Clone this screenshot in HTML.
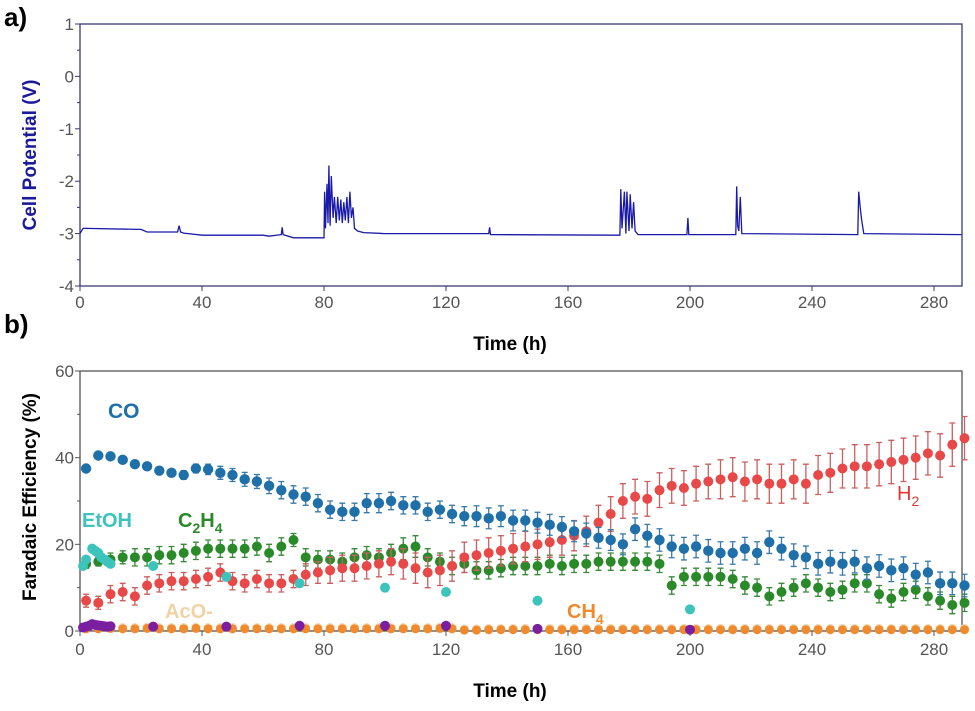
<!DOCTYPE html>
<html><head><meta charset="utf-8"><style>
body{margin:0;background:#fff;}
svg{display:block;font-family:"Liberation Sans",sans-serif;}
</style></head><body>
<svg id="chart" width="975" height="711" viewBox="0 0 975 711" xmlns="http://www.w3.org/2000/svg">
<text x="4" y="26" font-size="26" font-weight="bold">a)</text>
<text x="4" y="333" font-size="26" font-weight="bold">b)</text>
<g id="pa"></g>
<g id="pb"></g>
<text transform="translate(36,155) rotate(-90)" text-anchor="middle" font-size="19" font-weight="bold" fill="#1a1a9a">Cell Potential (V)</text>
<text x="510" y="350" text-anchor="middle" font-size="19" font-weight="bold">Time (h)</text>
<text transform="translate(36,497) rotate(-90)" text-anchor="middle" font-size="19" font-weight="bold">Faradaic Efficiency (%)</text>
<text x="510" y="697" text-anchor="middle" font-size="19" font-weight="bold">Time (h)</text>
<text x="108" y="418" font-size="21" font-weight="bold" fill="#1f6fa8">CO</text>
<text x="82" y="527" font-size="20" font-weight="bold" fill="#3cc4bc">EtOH</text>
<text x="178" y="527" font-size="20" font-weight="bold" fill="#2a8a2a">C<tspan font-size="14" dy="6">2</tspan><tspan dy="-6">H</tspan><tspan font-size="14" dy="6">4</tspan></text>
<text x="165" y="618" font-size="20" font-weight="bold" fill="#efd3a5">AcO-</text>
<text x="567" y="618" font-size="20" font-weight="bold" fill="#ef8a2e">CH<tspan font-size="14" dy="6">4</tspan></text>
<text x="897" y="500" font-size="20" fill="#e03838">H<tspan font-size="14" dy="6">2</tspan></text>
</svg>
<script>
// Panel a data: cell potential
const vTime=[0,1,2,20,22,32,32.5,33,34,40,60,62,66,66.3,66.6,70,80,80.2,80.5,81,81.3,81.6,82,82.4,83,83.4,84,84.5,85,85.5,86,86.5,87,87.5,88,88.5,89,89.5,90,91,93,100,134,134.3,134.6,177,177.3,177.7,178.5,179,179.3,180,180.4,181,181.5,182,183,199,199.3,199.6,215,215.3,215.6,216,216.5,217,255,255.3,255.8,256.3,257,289];
const vVal=[-3.0,-2.9,-2.9,-2.92,-2.97,-2.97,-2.85,-2.97,-2.99,-3.03,-3.03,-3.05,-3.02,-2.88,-3.02,-3.08,-3.08,-2.2,-2.9,-2.05,-2.8,-1.7,-2.85,-1.9,-2.7,-2.3,-2.8,-2.3,-2.75,-2.35,-2.8,-2.4,-2.75,-2.3,-2.8,-2.2,-2.7,-2.5,-2.9,-2.95,-2.98,-3.0,-3.0,-2.88,-3.02,-3.03,-2.15,-2.9,-2.2,-3.0,-2.2,-2.95,-2.25,-2.9,-2.4,-2.95,-3.02,-3.02,-2.7,-3.02,-3.02,-2.1,-2.85,-2.95,-2.3,-3.0,-3.02,-2.2,-2.5,-2.75,-3.0,-3.02];
const vTicks=[1,0,-1,-2,-3,-4];
const tTicks=[0,40,80,120,160,200,240,280];
// Panel b data (points every 4 h starting at 2 h)
const coFE=[37.5,40.5,40.3,39.5,38.5,38,37,36.5,36,37.5,37.3,36.5,36,35,34.5,33.5,32.5,31.5,31,29.5,28,27.5,27.5,29.5,29.5,30,29,29,27.5,28,27,26.5,26.5,26,26.5,25.5,25.5,25,24.5,24,23,22.5,21.5,21,20,23.5,22,21,19.5,19,19.5,18.5,18,18,19,18,20.5,19,17.5,17,15.5,16,15.5,16,14.5,15,14,14.5,13,13.5,11,11,10.5];
const h2FE=[7,6.5,8.5,9,8,10.5,11,11.5,11.5,12,12.5,13.5,11.5,11,12,11,11,12,13,13.5,14,14.5,14.5,15,15.5,16,15.5,14.5,13.5,14,15,17,17.5,18,18.5,19,19.5,20,20.5,21,22,23,25,27,30,31,30.5,32.5,33.5,33,34,34.5,35,35.5,34.5,35,34,34,35,34,36,36.5,37.5,38,38,38.5,39,39.5,40,41,40.5,43,44.5];
const c2h4FE=[15.5,16,16.5,17,17,17,17.5,17.5,18,18.5,19,19,19,19,19.5,18,19.5,21,17,16.5,16.5,16,17,17.5,17,18,19,19.5,17,16,15,15.5,14,14,14.5,15,15,15,15.5,15,15.5,15.5,16,16,16,16,16,15.5,10.5,12.5,12.5,12.5,12.5,12,10.5,10,8,9,10,11,10,9,9.5,11,11,8.5,7.5,9,9.5,8,7,6,6.5];
const ch4FE=[0.5,0.5,0.6,0.5,0.5,0.6,0.5,0.5,0.5,0.6,0.5,0.5,0.5,0.5,0.5,0.5,0.5,0.5,0.5,0.5,0.5,0.5,0.5,0.5,0.5,0.5,0.5,0.5,0.5,0.6,0.5,0.2,0.2,0.3,0.3,0.3,0.3,0.3,0.3,0.3,0.3,0.3,0.3,0.3,0.3,0.3,0.3,0.3,0.3,0.3,0.3,0.3,0.3,0.3,0.3,0.3,0.3,0.3,0.3,0.3,0.3,0.3,0.3,0.3,0.3,0.3,0.3,0.3,0.3,0.3,0.3,0.3,0.3];
const coErr=[0.5,0.6,0.6,0.6,0.7,0.8,0.8,0.8,1,1,1.2,1.5,1.5,1.6,1.6,1.8,2,2,2,2,2,2,2,2.2,2.2,2,2,2,2,2,2,2.2,2.4,2.4,2.4,2.4,2.4,2.4,2.4,2.4,2.4,2.4,2.4,2.4,2.4,2.6,2.6,2.6,2.6,2.6,2.6,2.6,2.6,2.6,2.6,2.6,2.6,2.6,2.6,2.6,2.6,2.6,2.6,2.6,2.6,2.6,2.6,2.6,2.6,2.6,2.6,2.6,2.6];
const h2Err=[1.5,1.5,2,2,2,2,2,2,2,2,2,2,2,2,2,2,2,2,2.5,2.5,3,3,3,3,3,3,3.5,3.5,3.5,3.5,3.5,3.5,3.5,3.5,3.5,3.5,3.5,3.5,3.5,3.5,3.5,3.5,4,4,4,4,4,4,4,4,4,4,4.5,4.5,4.5,4.5,4.5,4.5,4.5,4.5,4.5,4.5,4.5,5,5,5,5,5,5,5,5,5,5];
const c2h4Err=[1,1,1.5,1.5,2,2,2,2,2,2,2,2,2,2,2,2,2,1.5,2,2,2,2,2,2,2,2,2.5,2.5,2,2,2,2,2,2,2,2,2,2,2,2,2,2,2,2,2,2,2,2,2,2,2,2,2,2,2,2,2,2,2,2,2,2,2,2,2,2,2,2,2,2,2,2,2];
const etohTime=[1,2,4,5,6,7,8,9,10,24,48,72,100,120,150,200];
const etohFE=[15,16.5,19,18.5,18,17,16.5,16,15.5,15,12.5,11,10,9,7,5];
const purpleTime=[1,2,3,4,5,6,7,8,9,10,24,48,72,100,120,150,200];
const purpleFE=[0.8,1,1.2,1.6,1.4,1.3,1.2,1.1,1,1.1,1,1,1.2,1.2,1.2,0.5,0.3];
const feTicks=[0,20,40,60];

const NS="http://www.w3.org/2000/svg";
function mk(parent,tag,attrs){const e=document.createElementNS(NS,tag);for(const k in attrs)e.setAttribute(k,attrs[k]);parent.appendChild(e);return e;}
const X0=80,X1=962,PXH=(934-80)/280;
const xs=t=>X0+t*PXH;
const ya=v=>24+(1-v)*52.4;
const yb=v=>631-v*(260/60);
const pa=document.getElementById('pa'),pb=document.getElementById('pb');

// Panel a axes
let r=mk(pa,'rect',{x:X0,y:24,width:X1-X0,height:262,fill:'none',stroke:'#3a3a70','stroke-width':1.3});


vTicks.forEach(v=>{
 let l=mk(pa,'line',{x1:X0-5,x2:X0,y1:ya(v),y2:ya(v),stroke:'#3a3a70'});
 
 
 let t=mk(pa,'text',{x:X0-6,y:ya(v)+6,'text-anchor':'end','font-size':17,fill:'#555'});t.textContent=v;
 
 
 if(v>-4){let m=mk(pa,'line',{x1:X0-3,x2:X0,y1:ya(v-0.5),y2:ya(v-0.5),stroke:'#3a3a70'});
 
 }
});
tTicks.forEach(tv=>{
 let l=mk(pa,'line',{x1:xs(tv),x2:xs(tv),y1:286,y2:291,stroke:'#3a3a70'});
 
 
 let t=mk(pa,'text',{x:xs(tv),y:308,'text-anchor':'middle','font-size':17,fill:'#555'});t.textContent=tv;
 
 
});
let d='';vTime.forEach((t,i)=>{d+=(i?'L':'M')+xs(t).toFixed(1)+' '+ya(vVal[i]).toFixed(1);});
let vl=mk(pa,'path',{d:d,fill:'none',stroke:'#1a1aa8','stroke-width':1.3});



// Panel b axes
r=mk(pb,'rect',{x:X0,y:371,width:X1-X0,height:260,fill:'none',stroke:'#555','stroke-width':1.3});


feTicks.forEach(v=>{
 let l=mk(pb,'line',{x1:X0-5,x2:X0,y1:yb(v),y2:yb(v),stroke:'#555'});
 
 
 let t=mk(pb,'text',{x:X0-6,y:yb(v)+6,'text-anchor':'end','font-size':17,fill:'#555'});t.textContent=v;
 
 
 if(v<60){let m=mk(pb,'line',{x1:X0-3,x2:X0,y1:yb(v+10),y2:yb(v+10),stroke:'#555'});
 
 }
});
tTicks.forEach(tv=>{
 let l=mk(pb,'line',{x1:xs(tv),x2:xs(tv),y1:631,y2:636,stroke:'#555'});
 
 
 let t=mk(pb,'text',{x:xs(tv),y:655,'text-anchor':'middle','font-size':17,fill:'#555'});t.textContent=tv;
 
 
});
const tb=i=>2+4*i;
function series(vals,errs,color,ecolor,name,rad){
 const g=mk(pb,'g',{});
 
 
 vals.forEach((v,i)=>{
  const x=xs(tb(i)),y=yb(v);
  if(errs){const e=errs[i]*4.333;
   let eb=mk(g,'path',{d:`M${x} ${y-e}V${y+e}M${x-3} ${y-e}h6M${x-3} ${y+e}h6`,stroke:ecolor,'stroke-width':1.3,fill:'none'});
   
   }
  let c=mk(g,'circle',{cx:x,cy:y,r:rad,fill:color});
  
  
 });
}
series(ch4FE.map(v=>v+0.3),null,'#f3d9b0','','aco',4.5);
series(ch4FE,null,'#ef8a2e','','ch4',4.5);
series(c2h4FE,c2h4Err,'#2a8a2a','#3a8a3a','c2h4',5);
series(h2FE,h2Err,'#e84848','#c96060','h2',5);
series(coFE,coErr,'#1f6fa8','#3a7aa8','co',5.2);
etohTime.forEach((t,i)=>{
 let c=mk(pb,'circle',{cx:xs(t),cy:yb(etohFE[i]),r:5,fill:'#3cc4bc'});
 
 
});
purpleTime.forEach((t,i)=>{
 let c=mk(pb,'circle',{cx:xs(t),cy:yb(purpleFE[i]),r:5,fill:'#7a1fa0'});
 
 
});
</script>
</body></html>
